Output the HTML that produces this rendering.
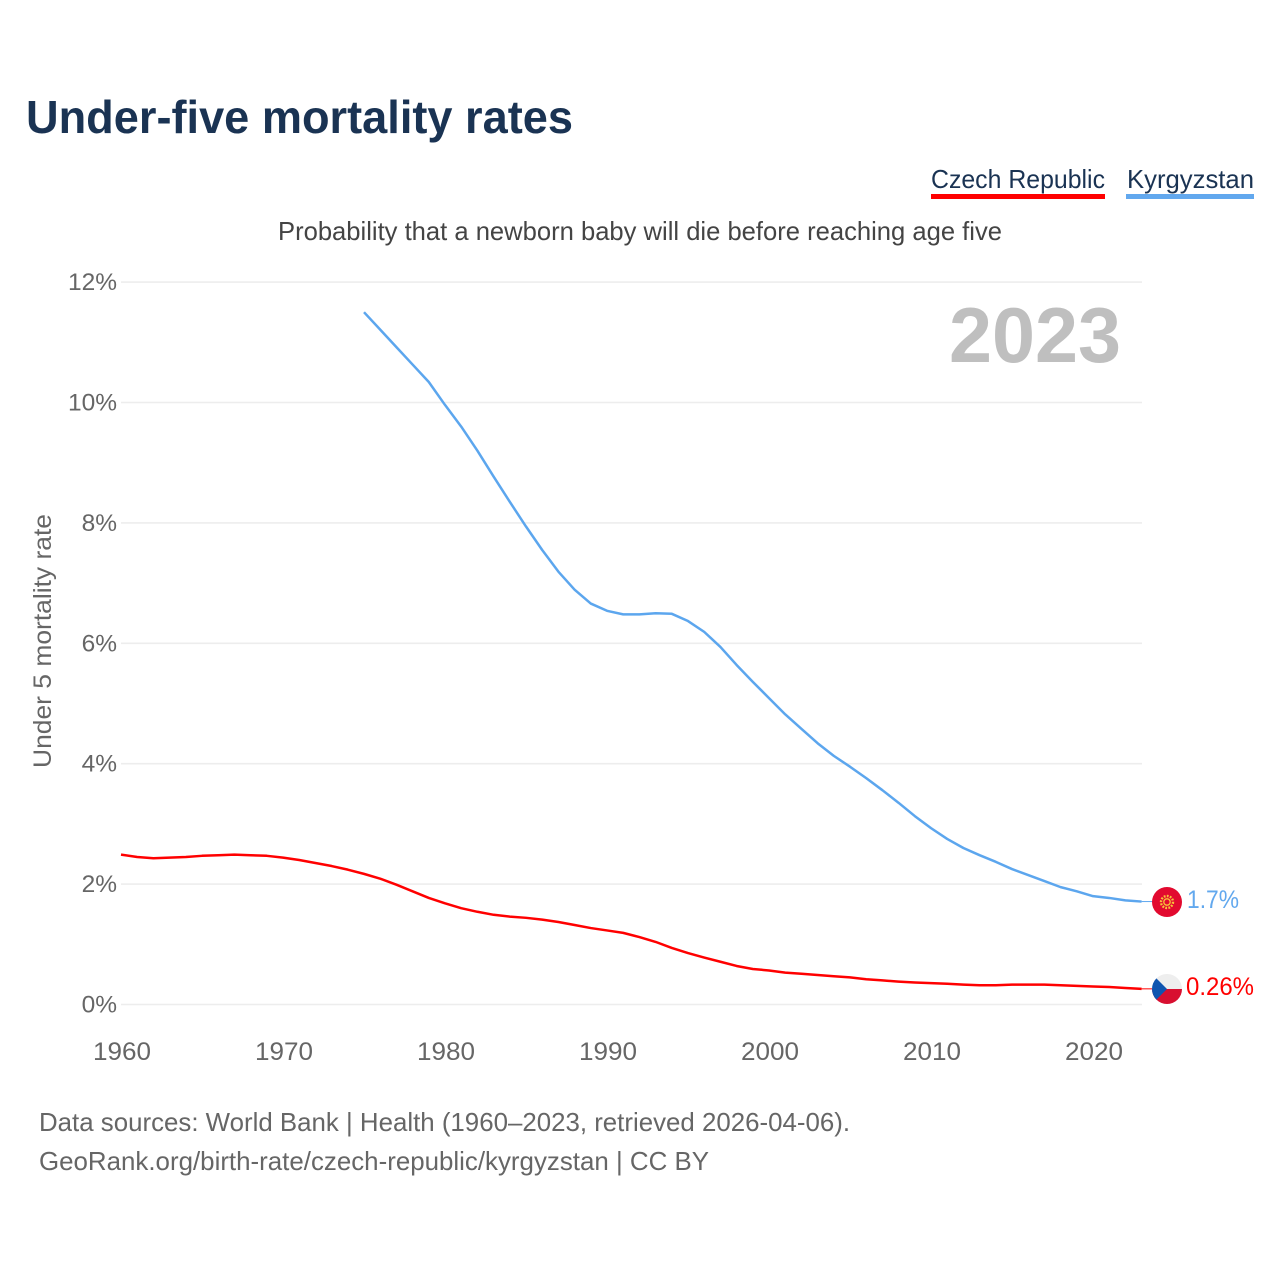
<!DOCTYPE html>
<html lang="en">
<head>
<meta charset="utf-8">
<title>Under-five mortality rates</title>
<style>
html,body{margin:0;padding:0;background:#fff;width:1280px;height:1280px;overflow:hidden}
svg{display:block;font-family:"Liberation Sans",sans-serif}
</style>
</head>
<body>
<svg id="chart" xmlns="http://www.w3.org/2000/svg" width="1280" height="1280" viewBox="0 0 1280 1280">
  <text x="26" y="133" font-size="46" font-weight="700" fill="#1a3353" textLength="547" lengthAdjust="spacingAndGlyphs">Under-five mortality rates</text>

  <g>
    <text x="931" y="188" font-size="26" fill="#1a3353" textLength="174" lengthAdjust="spacingAndGlyphs">Czech Republic</text>
    <rect x="931" y="194" width="174" height="5" fill="#ff0000"/>
  </g>
  <g>
    <text x="1127" y="188" font-size="26" fill="#1a3353" textLength="127" lengthAdjust="spacingAndGlyphs">Kyrgyzstan</text>
    <rect x="1126" y="194" width="128" height="5" fill="#62a8ee"/>
  </g>

  <text x="278" y="240" font-size="26" fill="#444" textLength="724" lengthAdjust="spacingAndGlyphs">Probability that a newborn baby will die before reaching age five</text>

  <g id="grid"></g>
  <g id="yticks"></g>
  <g id="xticks"></g>

  <text transform="translate(51,768) rotate(-90)" x="0" y="0" font-size="25" fill="#666" textLength="254" lengthAdjust="spacingAndGlyphs">Under 5 mortality rate</text>

  <text x="949" y="362" font-size="78" font-weight="700" fill="#bfbfbf" textLength="172" lengthAdjust="spacingAndGlyphs">2023</text>

  <g id="series"></g>

  <defs>
    <clipPath id="cz-clip"><circle cx="1167" cy="989" r="15"/></clipPath>
  </defs>

  <g>
    <circle cx="1167" cy="902" r="15" fill="#e20a2f"/>
    <circle cx="1167" cy="902" r="6" fill="none" stroke="#f7c23a" stroke-width="2.4" stroke-dasharray="1.8 1.3"/>
    <circle cx="1167" cy="902" r="3.2" fill="none" stroke="#f7c23a" stroke-width="1.3"/>
  </g>
  <g clip-path="url(#cz-clip)">
    <rect x="1152" y="974" width="30" height="15" fill="#eeeeee"/>
    <rect x="1152" y="989" width="30" height="15" fill="#d80f30"/>
    <polygon points="1152,974 1152,1004 1167,989" fill="#0f55b0"/>
  </g>

  <text id="label-kg" x="1187" y="908" font-size="25" fill="#62a8ee" textLength="52" lengthAdjust="spacingAndGlyphs">1.7%</text>
  <text id="label-cz" x="1186" y="995" font-size="25" fill="#ff0000" textLength="68" lengthAdjust="spacingAndGlyphs">0.26%</text>

  <text x="39" y="1131" font-size="26" fill="#666" textLength="811" lengthAdjust="spacingAndGlyphs">Data sources: World Bank | Health (1960–2023, retrieved 2026-04-06).</text>
  <text x="39" y="1170" font-size="26" fill="#666" textLength="670" lengthAdjust="spacingAndGlyphs">GeoRank.org/birth-rate/czech-republic/kyrgyzstan | CC BY</text>
</svg>
<script>
const startYear = 1960;
const yTickValues = [0, 2, 4, 6, 8, 10, 12];
const xTickValues = [1960, 1970, 1980, 1990, 2000, 2010, 2020];
const czechValues = [2.49,2.45,2.43,2.44,2.45,2.47,2.48,2.49,2.48,2.47,2.44,2.40,2.35,2.30,2.24,2.17,2.09,1.99,1.88,1.77,1.68,1.60,1.54,1.49,1.46,1.44,1.41,1.37,1.32,1.27,1.23,1.19,1.12,1.04,0.94,0.855,0.78,0.71,0.64,0.59,0.565,0.53,0.51,0.49,0.47,0.45,0.42,0.40,0.38,0.365,0.355,0.345,0.33,0.32,0.32,0.33,0.33,0.33,0.32,0.31,0.30,0.29,0.275,0.26];
const kyrgyzStartYear = 1975;
const kyrgyzValues = [11.5,11.21,10.92,10.63,10.34,9.96,9.6,9.2,8.77,8.35,7.94,7.55,7.19,6.89,6.66,6.54,6.48,6.48,6.50,6.49,6.37,6.19,5.94,5.64,5.36,5.09,4.82,4.58,4.34,4.13,3.95,3.76,3.56,3.35,3.13,2.93,2.75,2.60,2.48,2.37,2.25,2.15,2.05,1.95,1.88,1.80,1.77,1.73,1.71];

const NS = 'http://www.w3.org/2000/svg';
const xScale = year => 121 + (year - 1960) * 16.2;
const yScale = value => 1004.5 - value * 60.2;

function make(tag, attrs, parent, text) {
  const el = document.createElementNS(NS, tag);
  for (const k in attrs) el.setAttribute(k, attrs[k]);
  if (text !== undefined) el.textContent = text;
  parent.appendChild(el);
  return el;
}

const gridGroup = document.getElementById('grid');
const yGroup = document.getElementById('yticks');
const xGroup = document.getElementById('xticks');
const seriesGroup = document.getElementById('series');

yTickValues.forEach(v => {
  const line = make('line', {x1: 121, x2: 1142, y1: yScale(v), y2: yScale(v), stroke: '#ededed', 'stroke-width': 1.6}, gridGroup);
  
  
  const label = make('text', {x: 117, y: yScale(v) + 8, 'font-size': 24.5, fill: '#666', 'text-anchor': 'end'}, yGroup, v + '%');
  
  
});

xTickValues.forEach(v => {
  const label = make('text', {x: xScale(v) + 1, y: 1060, 'font-size': 25, fill: '#666', 'text-anchor': 'middle', textLength: 58, lengthAdjust: 'spacingAndGlyphs'}, xGroup, String(v));
  
  
});

function linePoints(values, firstYear) {
  return values.map((v, i) => xScale(firstYear + i).toFixed(2) + ',' + yScale(v).toFixed(2)).join(' ');
}

const czechLine = make('polyline', {points: linePoints(czechValues, startYear), fill: 'none', stroke: '#ff0000', 'stroke-width': 2.5, 'stroke-linejoin': 'round'}, seriesGroup);



const kyrgyzLine = make('polyline', {points: linePoints(kyrgyzValues, kyrgyzStartYear), fill: 'none', stroke: '#5ca6ee', 'stroke-width': 2.5, 'stroke-linejoin': 'round'}, seriesGroup);



const lastCzech = czechValues[czechValues.length - 1];
const lastKyrgyz = kyrgyzValues[kyrgyzValues.length - 1];

const czechLeader = make('line', {x1: xScale(2023), x2: 1153, y1: yScale(lastCzech), y2: yScale(lastCzech), stroke: '#ff0000', 'stroke-width': 1}, seriesGroup);



const kyrgyzLeader = make('line', {x1: xScale(2023), x2: 1153, y1: yScale(lastKyrgyz), y2: yScale(lastKyrgyz), stroke: '#5ca6ee', 'stroke-width': 1}, seriesGroup);


</script>
</body>
</html>
